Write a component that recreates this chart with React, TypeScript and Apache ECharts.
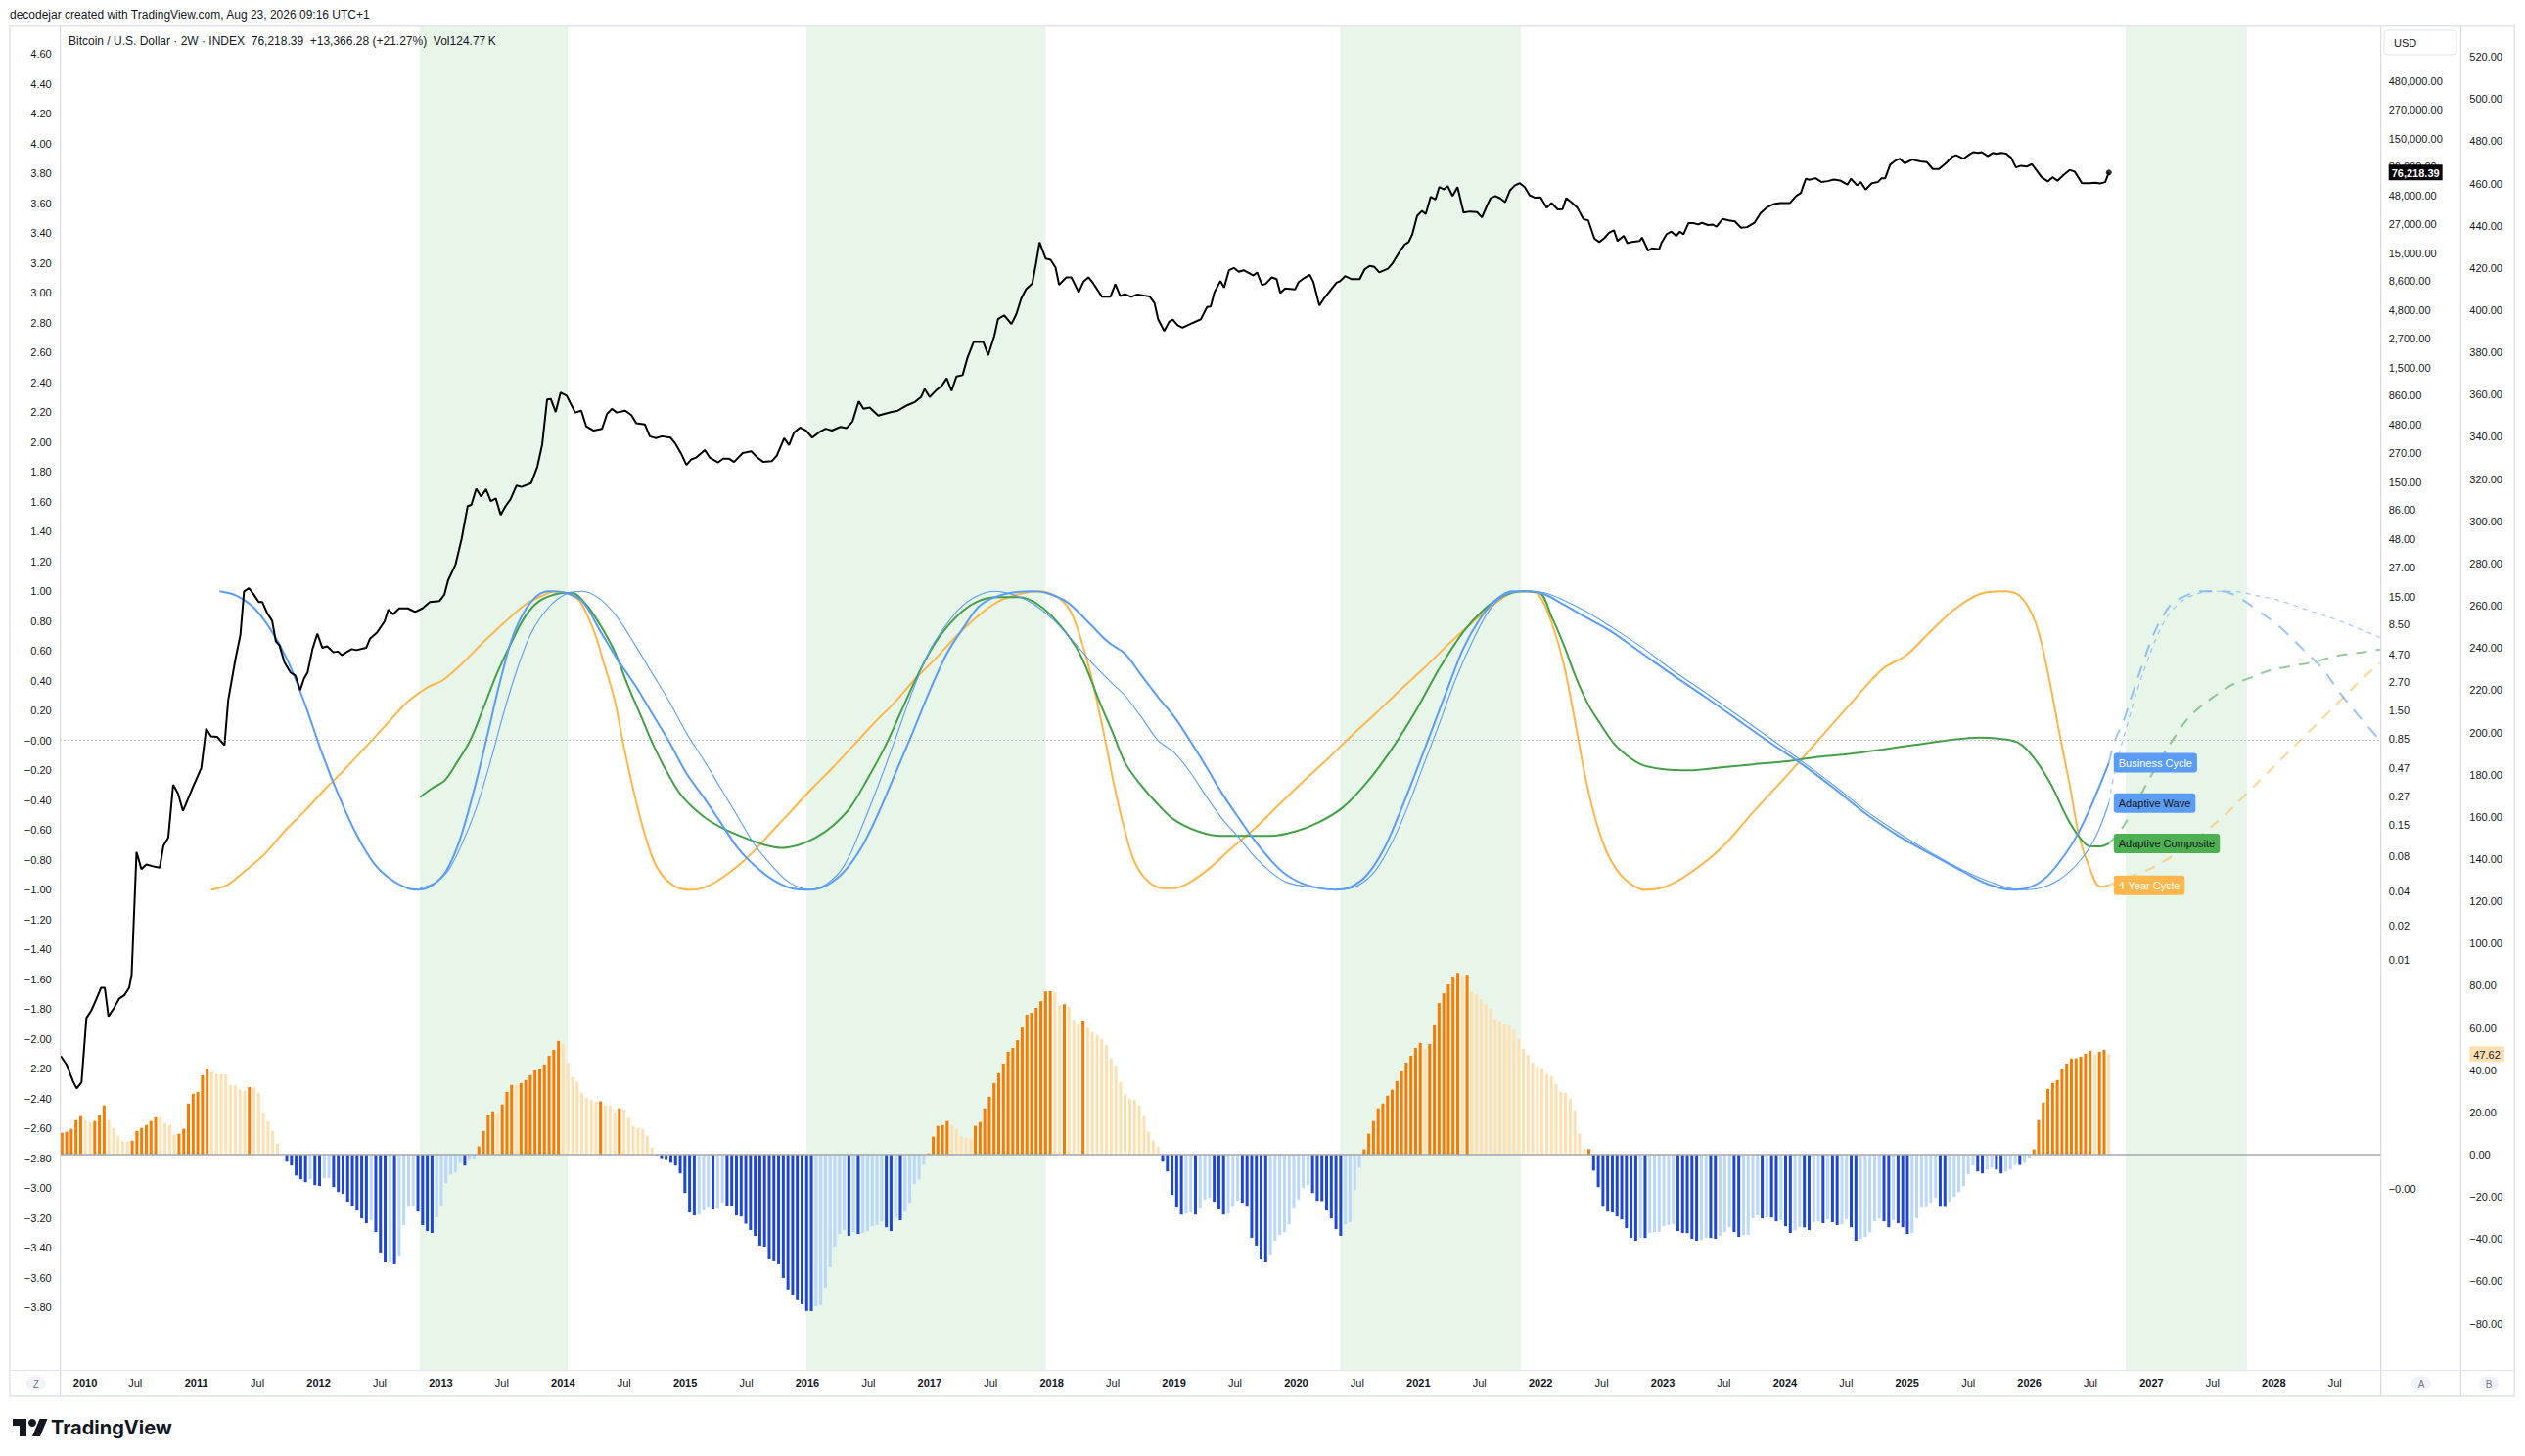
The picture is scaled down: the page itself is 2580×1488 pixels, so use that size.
import React, { useEffect, useRef } from "react";
import * as echarts from "echarts";

const FONT = "'Liberation Sans', Arial, sans-serif";
const TXT = "#131722";

// ---------------- tick labels ----------------
const X_LABEL_AT = [2010.09, 2010.5, 2011, 2011.5, 2012, 2012.5, 2013, 2013.5, 2014, 2014.5, 2015, 2015.5, 2016, 2016.5, 2017, 2017.5, 2018, 2018.5, 2019, 2019.5, 2020, 2020.5, 2021, 2021.5, 2022, 2022.5, 2023, 2023.5, 2024, 2024.5, 2025, 2025.5, 2026, 2026.5, 2027, 2027.5, 2028, 2028.5];
const X_LABEL_TEXT = ["2010", "Jul", "2011", "Jul", "2012", "Jul", "2013", "Jul", "2014", "Jul", "2015", "Jul", "2016", "Jul", "2017", "Jul", "2018", "Jul", "2019", "Jul", "2020", "Jul", "2021", "Jul", "2022", "Jul", "2023", "Jul", "2024", "Jul", "2025", "Jul", "2026", "Jul", "2027", "Jul", "2028", "Jul"];
const L_TICKS = [4.6, 4.4, 4.2, 4.0, 3.8, 3.6, 3.4, 3.2, 3.0, 2.8, 2.6, 2.4, 2.2, 2.0, 1.8, 1.6, 1.4, 1.2, 1.0, 0.8, 0.6, 0.4, 0.2, 0, -0.2, -0.4, -0.6, -0.8, -1.0, -1.2, -1.4, -1.6, -1.8, -2.0, -2.2, -2.4, -2.6, -2.8, -3.0, -3.2, -3.4, -3.6, -3.8];
const A_TICKS = [480000, 270000, 150000, 86000, 48000, 27000, 15000, 8600, 4800, 2700, 1500, 860, 480, 270, 150, 86, 48, 27, 15, 8.5, 4.7, 2.7, 1.5, 0.85, 0.47, 0.27, 0.15, 0.08, 0.04, 0.02, 0.01];
const A_EXTRA_LOG = -4; // the "−0.00" label on the price scale
const B_TICKS = [520, 500, 480, 460, 440, 420, 400, 380, 360, 340, 320, 300, 280, 260, 240, 220, 200, 180, 160, 140, 120, 100, 80, 60, 40, 20, 0, -20, -40, -60, -80];

// ---------------- highlighted periods ----------------
const BANDS = [[2012.83, 2014.04], [2015.99, 2017.95], [2020.36, 2021.84], [2026.79, 2027.78]];

// ---------------- BTC / USD (2W close) [year, price] ----------------
const BTC: number[][] = [
[2009.89,0.00144],[2009.94,0.0012],[2009.99,0.00087],[2010.02,0.00075],[2010.06,0.00085],[2010.10,0.0031],[2010.14,0.0036],[2010.18,0.0045],[2010.22,0.0057],[2010.25,0.0057],
[2010.28,0.0032],[2010.32,0.0037],[2010.37,0.0046],[2010.41,0.0049],[2010.45,0.0057],[2010.47,0.0074],[2010.51,0.0875],[2010.55,0.062],[2010.59,0.068],[2010.66,0.065],
[2010.70,0.064],[2010.73,0.099],[2010.77,0.117],[2010.81,0.339],[2010.85,0.284],[2010.89,0.20],[2010.97,0.32],[2011.04,0.475],[2011.08,1.05],[2011.12,0.90],
[2011.17,0.89],[2011.23,0.75],[2011.26,1.85],[2011.32,4.28],[2011.36,6.9],[2011.39,16.6],[2011.43,17.7],[2011.47,15.6],[2011.51,13.4],[2011.54,13.4],
[2011.58,10.7],[2011.62,9.2],[2011.65,6.1],[2011.68,5.6],[2011.72,4.0],[2011.77,3.25],[2011.81,3.05],[2011.85,2.28],[2011.88,2.86],[2011.91,3.25],
[2011.95,5.2],[2011.99,7.1],[2012.03,5.35],[2012.07,5.5],[2012.12,4.9],[2012.16,4.95],[2012.19,4.6],[2012.23,4.9],[2012.27,5.2],[2012.31,5.1],
[2012.39,5.35],[2012.42,6.4],[2012.48,7.3],[2012.54,9.1],[2012.57,11.5],[2012.61,10.5],[2012.66,11.8],[2012.73,11.8],[2012.79,11.0],[2012.85,11.8],
[2012.91,13.4],[2012.99,13.7],[2013.03,15.6],[2013.06,20.8],[2013.12,28.4],[2013.17,47.6],[2013.22,92.5],[2013.25,94.8],[2013.29,131],[2013.33,112],
[2013.37,130],[2013.41,102],[2013.45,108],[2013.49,77.6],[2013.53,92.5],[2013.57,106],[2013.62,140],[2013.66,136],[2013.74,147],[2013.79,204],
[2013.83,320],[2013.87,791],[2013.90,800],[2013.94,615],[2013.98,908],[2014.03,853],[2014.10,608],[2014.15,631],[2014.19,461],[2014.25,423],
[2014.32,439],[2014.36,592],[2014.40,655],[2014.44,608],[2014.51,631],[2014.56,578],[2014.60,491],[2014.67,479],[2014.71,377],[2014.76,363],
[2014.81,377],[2014.88,367],[2014.92,325],[2014.97,262],[2015.01,212],[2015.05,237],[2015.09,246],[2015.16,286],[2015.20,246],[2015.27,223],
[2015.31,240],[2015.36,240],[2015.40,225],[2015.47,269],[2015.54,279],[2015.59,246],[2015.64,225],[2015.71,229],[2015.75,256],[2015.81,363],
[2015.85,316],[2015.89,406],[2015.94,449],[2015.99,423],[2016.04,367],[2016.10,412],[2016.15,439],[2016.20,423],[2016.27,456],[2016.32,444],
[2016.37,510],[2016.42,762],[2016.46,655],[2016.51,672],[2016.58,571],[2016.63,592],[2016.69,615],[2016.74,631],[2016.82,707],[2016.88,752],
[2016.93,831],[2016.96,979],[2017.00,831],[2017.05,943],[2017.10,1043],[2017.14,1211],[2017.18,943],[2017.22,1257],[2017.27,1291],[2017.31,1832],
[2017.36,2512],[2017.44,2512],[2017.48,1928],[2017.53,2844],[2017.56,3990],[2017.61,4305],[2017.67,3610],[2017.71,4416],[2017.75,6040],[2017.79,7280],
[2017.84,8170],[2017.87,12050],[2017.90,18700],[2017.95,13490],[2017.99,13150],[2018.03,11300],[2018.06,7960],[2018.12,9250],[2018.16,9250],[2018.22,6850],
[2018.26,8480],[2018.30,9250],[2018.34,8170],[2018.41,6270],[2018.48,6270],[2018.52,8050],[2018.56,6340],[2018.60,6600],[2018.65,6250],[2018.70,6550],
[2018.75,6430],[2018.80,6300],[2018.84,5530],[2018.87,3980],[2018.92,3140],[2018.96,3780],[2018.99,3950],[2019.03,3530],[2019.07,3360],[2019.12,3560],
[2019.22,3980],[2019.27,5080],[2019.30,5150],[2019.33,6820],[2019.38,8580],[2019.41,7530],[2019.45,10660],[2019.49,11170],[2019.53,10330],[2019.57,10660],
[2019.61,10120],[2019.65,9600],[2019.68,10200],[2019.72,7930],[2019.75,8100],[2019.80,9230],[2019.84,8930],[2019.87,6730],[2019.91,7390],[2019.99,7240],
[2020.02,8410],[2020.07,9180],[2020.11,9730],[2020.14,8480],[2020.19,5240],[2020.23,6100],[2020.27,6900],[2020.33,8310],[2020.36,8580],[2020.40,9470],
[2020.45,8930],[2020.52,8930],[2020.56,10870],[2020.60,11620],[2020.64,11400],[2020.68,10200],[2020.75,11000],[2020.79,12330],[2020.84,15100],[2020.89,18030],
[2020.92,18800],[2020.95,21980],[2020.99,31960],[2021.03,35250],[2021.06,33000],[2021.10,46750],[2021.14,44400],[2021.17,56900],[2021.21,54300],[2021.24,58000],
[2021.28,47500],[2021.32,56900],[2021.37,34100],[2021.42,34800],[2021.48,34400],[2021.52,30900],[2021.56,38900],[2021.59,45300],[2021.63,47500],[2021.67,45300],
[2021.71,41900],[2021.75,53300],[2021.79,59000],[2021.83,61500],[2021.87,56900],[2021.91,48300],[2021.95,46000],[2022.00,46300],[2022.05,37650],[2022.09,41200],
[2022.14,36300],[2022.18,36500],[2022.21,45600],[2022.26,41200],[2022.30,37650],[2022.35,29900],[2022.39,29100],[2022.44,20200],[2022.48,18800],[2022.52,20300],
[2022.56,22700],[2022.60,23800],[2022.63,19200],[2022.68,21300],[2022.71,18400],[2022.75,18900],[2022.81,19200],[2022.83,20600],[2022.88,15800],[2022.91,16600],
[2022.97,16300],[2022.99,18600],[2023.03,22000],[2023.07,23200],[2023.11,21300],[2023.14,23200],[2023.17,22000],[2023.21,27500],[2023.25,27500],[2023.29,26800],
[2023.32,27700],[2023.37,26500],[2023.41,26700],[2023.44,25700],[2023.49,30000],[2023.54,29100],[2023.59,28500],[2023.64,25100],[2023.69,25400],[2023.75,27700],
[2023.80,33700],[2023.85,37650],[2023.91,40500],[2023.96,41300],[2024.04,41200],[2024.09,47500],[2024.13,50600],[2024.17,67200],[2024.20,65900],[2024.25,68000],
[2024.30,62900],[2024.35,64100],[2024.40,66300],[2024.45,65000],[2024.51,59700],[2024.54,67200],[2024.59,58900],[2024.62,62900],[2024.66,54100],[2024.71,61500],
[2024.76,62900],[2024.79,68000],[2024.82,68000],[2024.86,89100],[2024.90,96300],[2024.94,100700],[2024.98,91600],[2025.04,98900],[2025.11,95200],[2025.16,94100],
[2025.21,81800],[2025.26,81800],[2025.32,92400],[2025.37,105000],[2025.40,108000],[2025.46,100700],[2025.50,108000],[2025.54,114900],[2025.58,113000],[2025.61,114900],
[2025.66,106000],[2025.70,113000],[2025.73,110800],[2025.77,113000],[2025.81,111500],[2025.85,102800],[2025.89,84500],[2025.93,87400],[2025.98,86100],[2026.02,90300],
[2026.06,79100],[2026.10,69300],[2026.15,63700],[2026.19,69300],[2026.23,64600],[2026.28,72700],[2026.33,80200],[2026.37,77700],[2026.43,61500],[2026.49,61500],
[2026.54,62000],[2026.58,61200],[2026.62,62850],[2026.65,76218.39]
];

// ---------------- cycle oscillators [year, value] ----------------
const BUSINESS_CYCLE: number[][] = [
[2011.19,1.00],[2011.33,0.97],[2011.47,0.89],[2011.61,0.74],[2011.75,0.53],[2011.89,0.24],[2012.03,-0.09],[2012.17,-0.38],[2012.31,-0.63],[2012.45,-0.82],[2012.59,-0.93],[2012.73,-0.99],[2012.82,-1.00],[2012.93,-0.97],[2013.04,-0.88],[2013.15,-0.68],[2013.27,-0.34],[2013.38,0.03],[2013.49,0.41],[2013.60,0.72],[2013.74,0.93],[2013.88,1.00],[2014.02,0.99],[2014.16,0.93],[2014.30,0.74],[2014.44,0.55],[2014.59,0.37],[2014.73,0.18],[2014.87,-0.01],[2015.01,-0.22],[2015.15,-0.38],[2015.29,-0.55],[2015.43,-0.72],[2015.57,-0.84],[2015.71,-0.93],[2015.87,-0.99],[2016.02,-1.00],[2016.16,-0.97],[2016.30,-0.88],[2016.44,-0.72],[2016.58,-0.49],[2016.72,-0.22],[2016.86,0.05],[2017.00,0.33],[2017.14,0.58],[2017.28,0.76],[2017.42,0.91],[2017.61,0.98],[2017.84,1.00],[2017.95,0.99],[2018.12,0.93],[2018.29,0.80],[2018.46,0.66],[2018.60,0.58],[2018.73,0.44],[2018.87,0.29],[2019.01,0.15],[2019.13,0.00],[2019.26,-0.17],[2019.39,-0.35],[2019.53,-0.52],[2019.66,-0.67],[2019.79,-0.80],[2019.92,-0.90],[2020.09,-0.97],[2020.32,-1.00],[2020.45,-0.98],[2020.58,-0.90],[2020.71,-0.74],[2020.84,-0.50],[2020.98,-0.21],[2021.11,0.07],[2021.24,0.35],[2021.37,0.62],[2021.50,0.81],[2021.63,0.94],[2021.77,1.00],[2021.90,1.00],[2022.03,0.98],[2022.19,0.91],[2022.36,0.83],[2022.56,0.74],[2022.82,0.59],[2023.08,0.44],[2023.35,0.29],[2023.61,0.14],[2023.87,-0.01],[2024.14,-0.16],[2024.40,-0.32],[2024.66,-0.49],[2024.93,-0.64],[2025.19,-0.76],[2025.46,-0.88],[2025.65,-0.96],[2025.85,-1.00],[2025.98,-0.99],[2026.12,-0.93],[2026.25,-0.81],[2026.38,-0.65],[2026.51,-0.43],[2026.65,-0.15]
];
const ADAPTIVE_WAVE: number[][] = [
[2012.83,-0.99],[2012.96,-0.95],[2013.07,-0.86],[2013.18,-0.68],[2013.30,-0.43],[2013.41,-0.13],[2013.52,0.20],[2013.63,0.49],[2013.74,0.72],[2013.88,0.89],[2014.02,0.98],[2014.16,1.00],[2014.30,0.95],[2014.44,0.83],[2014.59,0.64],[2014.73,0.45],[2014.87,0.26],[2015.01,0.05],[2015.15,-0.13],[2015.29,-0.32],[2015.43,-0.51],[2015.57,-0.70],[2015.71,-0.84],[2015.85,-0.95],[2016.02,-1.00],[2016.16,-0.96],[2016.30,-0.84],[2016.44,-0.59],[2016.58,-0.30],[2016.72,0.01],[2016.86,0.33],[2017.00,0.60],[2017.14,0.78],[2017.28,0.91],[2017.42,0.98],[2017.53,1.00],[2017.67,0.98],[2017.84,0.92],[2018.01,0.81],[2018.17,0.67],[2018.34,0.51],[2018.51,0.37],[2018.60,0.30],[2018.73,0.16],[2018.87,0.00],[2019.00,-0.08],[2019.13,-0.21],[2019.26,-0.37],[2019.39,-0.52],[2019.53,-0.65],[2019.66,-0.78],[2019.79,-0.88],[2019.92,-0.95],[2020.09,-0.98],[2020.35,-1.00],[2020.51,-0.97],[2020.65,-0.87],[2020.78,-0.69],[2020.91,-0.45],[2021.04,-0.17],[2021.17,0.11],[2021.30,0.40],[2021.44,0.66],[2021.57,0.86],[2021.70,0.97],[2021.86,1.00],[2022.03,0.99],[2022.19,0.94],[2022.36,0.87],[2022.56,0.77],[2022.82,0.63],[2023.08,0.47],[2023.35,0.32],[2023.61,0.17],[2023.87,0.02],[2024.14,-0.14],[2024.40,-0.30],[2024.66,-0.47],[2024.93,-0.62],[2025.19,-0.75],[2025.46,-0.87],[2025.72,-0.96],[2025.92,-1.00],[2026.08,-0.99],[2026.25,-0.93],[2026.41,-0.81],[2026.54,-0.65],[2026.65,-0.42]
];
const ADAPTIVE_COMPOSITE: number[][] = [
[2012.83,-0.38],[2012.93,-0.32],[2013.03,-0.27],[2013.13,-0.15],[2013.24,0.00],[2013.35,0.22],[2013.46,0.45],[2013.58,0.66],[2013.69,0.83],[2013.80,0.93],[2013.94,0.98],[2014.07,0.99],[2014.19,0.91],[2014.30,0.78],[2014.42,0.60],[2014.53,0.37],[2014.64,0.16],[2014.75,-0.05],[2014.87,-0.24],[2014.98,-0.38],[2015.15,-0.51],[2015.31,-0.59],[2015.48,-0.65],[2015.65,-0.70],[2015.79,-0.72],[2015.93,-0.70],[2016.07,-0.65],[2016.21,-0.57],[2016.35,-0.45],[2016.49,-0.26],[2016.63,-0.05],[2016.77,0.20],[2016.91,0.45],[2017.05,0.66],[2017.22,0.83],[2017.39,0.93],[2017.56,0.96],[2017.73,0.96],[2017.89,0.91],[2018.06,0.78],[2018.23,0.58],[2018.40,0.24],[2018.50,0.05],[2018.60,-0.15],[2018.73,-0.30],[2018.87,-0.43],[2019.00,-0.53],[2019.20,-0.61],[2019.39,-0.64],[2019.59,-0.64],[2019.79,-0.64],[2019.99,-0.61],[2020.18,-0.55],[2020.38,-0.45],[2020.58,-0.28],[2020.78,-0.06],[2020.98,0.20],[2021.17,0.48],[2021.37,0.73],[2021.54,0.88],[2021.70,0.97],[2021.86,1.00],[2021.99,0.99],[2022.09,0.83],[2022.19,0.64],[2022.29,0.42],[2022.39,0.24],[2022.49,0.11],[2022.59,-0.01],[2022.69,-0.09],[2022.82,-0.16],[2022.98,-0.19],[2023.22,-0.20],[2023.48,-0.18],[2023.74,-0.16],[2024.01,-0.14],[2024.27,-0.11],[2024.53,-0.09],[2024.80,-0.06],[2025.06,-0.03],[2025.32,0.00],[2025.59,0.02],[2025.78,0.01],[2025.92,-0.02],[2026.05,-0.13],[2026.18,-0.30],[2026.31,-0.52],[2026.41,-0.65],[2026.50,-0.71],[2026.58,-0.71],[2026.65,-0.69]
];
const FOUR_YEAR_CYCLE: number[][] = [
[2011.12,-1.00],[2011.25,-0.97],[2011.39,-0.88],[2011.56,-0.76],[2011.72,-0.61],[2011.89,-0.47],[2012.06,-0.32],[2012.23,-0.18],[2012.40,-0.03],[2012.57,0.12],[2012.73,0.26],[2012.90,0.36],[2013.01,0.40],[2013.18,0.52],[2013.35,0.66],[2013.52,0.79],[2013.69,0.91],[2013.83,0.97],[2013.94,1.00],[2014.05,0.98],[2014.14,0.93],[2014.25,0.74],[2014.33,0.53],[2014.42,0.28],[2014.50,-0.05],[2014.59,-0.38],[2014.67,-0.63],[2014.75,-0.82],[2014.84,-0.93],[2014.95,-0.99],[2015.06,-1.00],[2015.20,-0.97],[2015.37,-0.88],[2015.54,-0.76],[2015.71,-0.61],[2015.87,-0.47],[2016.04,-0.32],[2016.21,-0.18],[2016.38,-0.03],[2016.55,0.12],[2016.72,0.26],[2016.88,0.41],[2017.05,0.55],[2017.22,0.70],[2017.39,0.83],[2017.56,0.93],[2017.73,0.98],[2017.89,1.00],[2018.03,0.97],[2018.15,0.87],[2018.26,0.62],[2018.34,0.37],[2018.43,0.03],[2018.51,-0.30],[2018.60,-0.61],[2018.67,-0.80],[2018.77,-0.93],[2018.90,-0.99],[2019.00,-0.99],[2019.13,-0.95],[2019.30,-0.85],[2019.46,-0.73],[2019.66,-0.59],[2019.86,-0.43],[2020.05,-0.28],[2020.25,-0.13],[2020.45,0.03],[2020.65,0.18],[2020.84,0.33],[2021.04,0.48],[2021.24,0.64],[2021.44,0.79],[2021.63,0.92],[2021.77,0.99],[2021.90,1.00],[2021.99,0.97],[2022.09,0.79],[2022.19,0.51],[2022.29,0.09],[2022.37,-0.26],[2022.46,-0.56],[2022.56,-0.78],[2022.69,-0.93],[2022.85,-1.00],[2023.02,-0.98],[2023.22,-0.89],[2023.48,-0.72],[2023.74,-0.48],[2024.01,-0.24],[2024.27,0.00],[2024.53,0.24],[2024.80,0.48],[2024.99,0.57],[2025.19,0.73],[2025.39,0.88],[2025.59,0.98],[2025.79,1.00],[2025.92,0.97],[2026.05,0.79],[2026.15,0.46],[2026.25,0.03],[2026.33,-0.30],[2026.41,-0.65],[2026.50,-0.87],[2026.58,-0.98],[2026.65,-0.97]
];

// ---------------- projections (dashed) ----------------
const BUSINESS_PROJ: number[][] = [[2026.65,-0.15],[2026.70,0.00],[2026.77,0.13],[2026.85,0.33],[2026.93,0.52],[2027.01,0.70],[2027.09,0.83],[2027.17,0.92],[2027.28,0.97],[2027.39,1.00],[2027.57,1.00],[2027.71,0.96],[2027.87,0.87],[2028.05,0.76],[2028.24,0.61],[2028.40,0.48],[2028.53,0.33],[2028.69,0.17],[2028.87,0.00]];
const WAVE_PROJ: number[][] = [[2026.65,-0.42],[2026.69,-0.24],[2026.74,-0.07],[2026.81,0.13],[2026.88,0.33],[2026.96,0.52],[2027.04,0.69],[2027.13,0.83],[2027.24,0.93],[2027.36,0.98],[2027.49,1.00],[2027.65,1.00],[2027.87,0.97],[2028.08,0.93],[2028.29,0.87],[2028.51,0.81],[2028.72,0.74],[2028.87,0.69]];
const COMPOSITE_PROJ: number[][] = [[2026.65,-0.69],[2026.74,-0.61],[2026.85,-0.46],[2026.96,-0.29],[2027.07,-0.13],[2027.17,0.00],[2027.28,0.13],[2027.39,0.22],[2027.52,0.30],[2027.65,0.37],[2027.81,0.42],[2027.97,0.47],[2028.16,0.50],[2028.35,0.53],[2028.53,0.57],[2028.72,0.59],[2028.87,0.61]];
const FOUR_YEAR_PROJ: number[][] = [[2026.65,-0.97],[2026.80,-0.92],[2026.96,-0.87],[2027.12,-0.80],[2027.28,-0.71],[2027.44,-0.61],[2027.60,-0.50],[2027.76,-0.37],[2027.92,-0.24],[2028.08,-0.11],[2028.24,0.02],[2028.40,0.15],[2028.56,0.28],[2028.72,0.41],[2028.87,0.52]];

// ---------------- momentum histogram (one value per 2W bar) ----------------
const HIST_END = 2026.65;
const HIST_STEP = 14 / 365.25;
const HIST: number[] = [
10.3,10.8,12.2,16.3,18.2,16.3,15.1,15.9,18.6,23.3,
16.3,12.6,8.9,6.6,6.2,6.6,11.2,12.6,14.0,15.9,
17.7,17.5,14.9,14.0,9.4,9.9,12.2,24.2,28.8,29.7,
37.6,40.8,39.3,38.2,38.1,38.0,33.0,32.9,30.7,30.2,
32.0,31.9,29.3,20.0,15.9,11.2,5.2,0.3,-3.4,-5.2,
-9.9,-11.7,-13.1,-11.7,-14.5,-14.9,-11.2,-11.1,-15.4,-17.7,
-18.6,-22.3,-24.2,-26.5,-30.2,-32.5,-31.1,-36.7,-46.8,-51.0,
-50.9,-51.9,-48.2,-33.4,-24.7,-24.2,-27.0,-33.4,-36.2,-37.1,
-29.7,-24.2,-13.6,-9.4,-8.5,-3.9,-5.2,-2.0,-1.9,3.9,
11.2,18.6,20.5,19.6,23.7,29.7,33.0,32.9,33.9,35.3,
37.6,39.9,40.8,42.7,46.8,49.6,53.8,52.4,43.6,36.7,
34.4,29.3,27.0,26.0,25.0,25.2,23.3,23.2,20.0,21.9,
21.4,17.3,13.6,12.6,12.2,8.9,3.4,-0.4,-1.7,-2.2,
-3.9,-5.2,-8.9,-18.2,-27.4,-28.8,-28.4,-26.5,-25.1,-26.0,
-25.6,-22.8,-24.2,-24.3,-28.8,-29.3,
-32.7,-35.7,-38.5,-43.1,-43.6,-49.6,-50.5,-51.9,-58.4,-63.9,
-66.3,-69.0,-70.9,-74.1,-74.2,-71.8,-71.3,-63.0,-53.3,-43.6,
-37.6,-35.7,-38.5,-36.7,-37.6,-37.1,-36.2,-33.9,-33.4,-31.6,
-34.4,-36.2,-29.7,-31.1,-27.0,-22.8,-14.0,-11.7,-4.8,0.6,
8.5,13.6,14.0,15.9,14.0,12.2,8.9,8.0,7.6,13.6,
15.4,21.9,27.4,33.9,38.5,43.1,48.7,50.5,54.2,60.2,
66.3,67.2,69.5,72.7,77.3,77.4,76.9,70.9,71.3,70.0,
63.9,61.6,63.5,60.2,57.9,56.5,54.7,51.9,45.5,42.2,
34.4,28.8,26.5,26.0,23.3,18.2,10.8,6.6,3.9,-3.4,
-8.0,-19.1,-25.1,-28.4,-27.9,-27.4,-28.4,-25.6,-21.4,-20.5,
-22.3,-26.0,-28.4,-27.9,-24.7,-21.9,-22.8,-24.7,-39.4,-43.1,
-49.6,-51.0,-47.8,-40.8,-38.1,-36.7,-33.0,-25.6,-21.4,-15.9,
-14.5,-18.2,-21.9,-22.0,-26.5,-30.2,-35.3,-38.5,-33.0,-32.0,
-16.8,-6.2,2.5,9.9,15.9,21.9,24.2,27.9,30.7,34.8,
39.4,43.6,46.8,50.5,52.9,
50.1,52.4,61.2,71.8,76.4,80.6,84.3,86.1,84.7,85.2,
77.3,76.0,73.7,71.3,69.0,64.4,63.5,61.6,61.2,59.3,
54.7,50.1,47.3,43.6,41.8,40.8,38.1,37.1,33.4,29.7,
29.3,26.5,21.0,9.9,2.5,2.6,-7.6,-15.4,-24.7,-27.0,
-27.4,-29.3,-30.7,-34.8,-39.4,-40.8,-39.4,-39.5,-37.1,-36.7,
-36.6,-33.9,-33.4,-33.0,-36.2,-37.1,-37.2,-39.9,-40.8,-40.4,
-39.4,-39.5,-39.9,-38.5,-36.7,-34.4,-36.7,-39.0,-38.1,-38.0,
-30.2,-28.8,-30.2,-29.7,-29.8,-31.6,-31.1,-33.9,-37.1,-35.7,
-34.4,-34.5,-35.7,-32.0,-31.6,-32.5,-30.7,-32.0,-33.4,-33.0,
-30.7,-34.4,-40.8,-39.9,-39.0,-36.7,-31.6,-30.2,-31.6,-34.4,
-31.1,-32.5,-34.4,-37.6,-37.1,-30.2,-25.1,-25.0,-22.8,-20.5,
-24.7,-24.8,-22.3,-20.0,-17.7,-14.9,-9.4,-5.2,-8.0,-8.9,
-7.1,-6.2,-7.1,-8.9,-8.0,-7.1,-4.8,-4.9,-3.9,-1.5,
2.5,16.3,24.7,31.1,33.9,35.3,40.8,43.1,45.5,45.6,
46.4,47.8,49.2,47.3,48.7,49.6,47.62
];

// ---------------- layout ----------------
const GL = 61.7, GR = 2432.7, GT = 26.7, GB = 1400;
const AXIS_B_X = 2514.3, FRAME_L = 10, FRAME_R = 2569.3, FRAME_B = 1427;
const X_MIN = 2009.887, X_MAX = 2028.876;
const L_MIN = -4.218, L_MAX = 4.787;
const A_MIN = -5.585, A_MAX = 6.162;
const B_MIN = -102, B_MAX = 534.6;

const C_BLUE = "#5b9cf6", C_GREEN = "#43a047", C_GREEN_BG = "#4caf50", C_ORANGE = "#ffb74d";
const OR_D = "#f57c00", OR_L = "#ffe0b2", BL_D = "#1e46d2", BL_L = "#bbd7fa";

echarts.graphic.registerShape(
  "tvlogo",
  echarts.graphic.extendPath("M14 22H7V11H0V4h14v18zM28 22h-8l7.5-18h8L28 22z", {})
);

const minus = "\u2212";
const fmtLeft = (v: number) => (v <= 0 ? minus : "") + Math.abs(v).toFixed(2);
const fmtB = (v: number) => (v < 0 ? minus : "") + Math.abs(v).toFixed(2);
const fmtPrice = (p: number) => p.toLocaleString("en-US", { minimumFractionDigits: 2, maximumFractionDigits: 2 });

const nearest = (arr: number[], v: number) => {
  let k = 0, best = Infinity;
  arr.forEach((t, i) => { const d = Math.abs(t - v); if (d < best) { best = d; k = i; } });
  return k;
};

function buildOption() {
  const last = (a: number[][]) => a[a.length - 1][1];
  const btcData = BTC.map(([t, p]) => [t, Math.log10(p)]);
  const btcLast = BTC[BTC.length - 1];
  const n = HIST.length;
  const histLast = HIST[n - 1];
  const histData = HIST.map((v, i) => {
    const prev = i > 0 ? HIST[i - 1] : -Infinity;
    const color = v >= 0 ? (v >= prev ? OR_D : OR_L) : (v <= prev ? BL_D : BL_L);
    return { value: [HIST_END - (n - 1 - i) * HIST_STEP, v], itemStyle: { color } };
  });

  // price scale ticks + the last-price tag (drawn last so it sits on top)
  const aLogs = A_TICKS.map((p) => Math.log10(p)).concat([A_EXTRA_LOG, Math.log10(btcLast[1])]);
  const aText = A_TICKS.map(fmtPrice).concat([minus + "0.00", "{tag|" + fmtPrice(btcLast[1]) + "}"]);
  const bVals = B_TICKS.concat([histLast]);
  const bText = B_TICKS.map(fmtB).concat(["{tag|" + histLast.toFixed(2) + "}"]);

  const axisLabelBase = { color: TXT, fontSize: 11, fontFamily: FONT };

  const leftBox = (val: number, bg: string, fg: string) => ({
    yAxis: val,
    lineStyle: { opacity: 0 },
    label: {
      show: true, position: "start", distance: 1, formatter: fmtLeft(val),
      backgroundColor: bg, color: fg, padding: [3, 5], fontSize: 11, lineHeight: 11,
      fontFamily: FONT, borderRadius: 2,
    },
  });

  const endLabel = (text: string, bg: string, fg: string) => ({
    show: true, formatter: text, backgroundColor: bg, color: fg, padding: [4, 5],
    borderRadius: 3, fontSize: 11, lineHeight: 12, fontFamily: FONT, distance: 5,
  });

  const cycle = (name: string, data: number[][], color: string, width: number, lbl: any, box: any, extraMarks: any[] = []) => ({
    name, type: "line", yAxisIndex: 0, data, symbol: "none", smooth: 0.35, z: 3,
    lineStyle: { color, width }, itemStyle: { color },
    endLabel: lbl,
    markLine: { silent: true, symbol: ["none", "none"], animation: false, data: [box, ...extraMarks] },
  });

  const proj = (name: string, data: number[][], color: string, width: number, dash: number[], opacity: number) => ({
    name, type: "line", yAxisIndex: 0, data, symbol: "none", smooth: 0.35, z: 3,
    lineStyle: { color, width, type: dash, opacity },
  });

  const txt = (x: number, y: number, text: string, extra: any = {}) => ({
    type: "text", silent: true, z: 100, x, y,
    style: { text, fontSize: 12, fontFamily: FONT, fill: TXT, verticalAlign: "middle", align: "left", ...extra },
  });

  return {
    animation: false,
    backgroundColor: "#ffffff",
    textStyle: { fontFamily: FONT },
    grid: { left: GL, top: GT, width: GR - GL, height: GB - GT },
    xAxis: {
      type: "value", min: X_MIN, max: X_MAX,
      axisLine: { show: false }, axisTick: { show: false }, splitLine: { show: false },
      axisLabel: {
        ...axisLabelBase, margin: 7, customValues: X_LABEL_AT,
        formatter: (v: number) => { const s = X_LABEL_TEXT[nearest(X_LABEL_AT, v)]; return s === "Jul" ? s : "{y|" + s + "}"; },
        rich: { y: { fontWeight: "bold", fontSize: 11, color: TXT, fontFamily: FONT } },
      },
    },
    yAxis: [
      {
        type: "value", position: "left", min: L_MIN, max: L_MAX,
        axisLine: { show: false }, axisTick: { show: false }, splitLine: { show: false },
        axisLabel: { ...axisLabelBase, margin: 9, customValues: L_TICKS, formatter: (v: number) => fmtLeft(v) },
      },
      {
        type: "value", position: "right", min: A_MIN, max: A_MAX,
        axisLine: { show: false }, axisTick: { show: false }, splitLine: { show: false },
        axisLabel: {
          ...axisLabelBase, margin: 5, customValues: aLogs,
          formatter: (v: number) => aText[nearest(aLogs, v)],
          padding: [0, 0, 0, 3],
          rich: { tag: { backgroundColor: "#000000", color: "#ffffff", fontWeight: "bold", fontSize: 11, lineHeight: 11, padding: [3, 3, 2, 3], fontFamily: FONT } },
        },
      },
      {
        type: "value", position: "right", offset: AXIS_B_X - GR, min: B_MIN, max: B_MAX,
        axisLine: { show: false }, axisTick: { show: false }, splitLine: { show: false },
        axisLabel: {
          ...axisLabelBase, margin: 5, customValues: bVals,
          formatter: (v: number) => bText[nearest(bVals, v)],
          padding: [0, 0, 0, 4],
          rich: { tag: { backgroundColor: OR_L, color: TXT, fontSize: 11, lineHeight: 11, padding: [3, 4, 2, 4], fontFamily: FONT } },
        },
      },
    ],
    series: [
      {
        name: "Momentum", type: "bar", yAxisIndex: 2, barWidth: 3, z: 2, data: histData,
        markArea: {
          silent: true, itemStyle: { color: "#e8f5e9" },
          data: BANDS.map(([a, b]) => [{ xAxis: a }, { xAxis: b }]),
        },
        markLine: {
          silent: true, symbol: ["none", "none"], animation: false,
          data: [
            { yAxis: 0, lineStyle: { color: "#a3a6ae", width: 1.5, type: "solid" }, label: { show: false } },
          ],
        },
      },
      cycle("4-Year Cycle", FOUR_YEAR_CYCLE, C_ORANGE, 2, endLabel("4-Year Cycle", C_ORANGE, "#ffffff"), leftBox(last(FOUR_YEAR_CYCLE), C_ORANGE, TXT)),
      cycle("Adaptive Composite", ADAPTIVE_COMPOSITE, C_GREEN, 2, endLabel("Adaptive Composite", C_GREEN_BG, TXT), leftBox(last(ADAPTIVE_COMPOSITE), C_GREEN_BG, "#ffffff")),
      cycle("Adaptive Wave", ADAPTIVE_WAVE, C_BLUE, 1.1, endLabel("Adaptive Wave", C_BLUE, TXT), leftBox(last(ADAPTIVE_WAVE), C_BLUE, TXT)),
      cycle("Business Cycle", BUSINESS_CYCLE, C_BLUE, 2, endLabel("Business Cycle", C_BLUE, "#ffffff"), leftBox(last(BUSINESS_CYCLE), C_BLUE, TXT), [
        { yAxis: 0, lineStyle: { color: "#9598a1", width: 1, type: [1, 3] }, label: { show: false } },
      ]),
      proj("4-Year Cycle (proj)", FOUR_YEAR_PROJ, C_ORANGE, 2, [11, 9], 0.6),
      proj("Adaptive Composite (proj)", COMPOSITE_PROJ, C_GREEN, 2, [11, 9], 0.55),
      proj("Adaptive Wave (proj)", WAVE_PROJ, C_BLUE, 1.2, [5, 5], 0.55),
      proj("Business Cycle (proj)", BUSINESS_PROJ, C_BLUE, 2, [13, 10], 0.6),
      {
        name: "BTCUSD", type: "line", yAxisIndex: 1, data: btcData, symbol: "none", z: 4,
        lineStyle: { color: "#000000", width: 2 },
      },
      {
        name: "BTC last", type: "scatter", yAxisIndex: 1, z: 5, symbolSize: 6,
        data: [[btcLast[0], Math.log10(btcLast[1])]], itemStyle: { color: "#000000" },
      },
    ],
    graphic: [
      { type: "rect", silent: true, z: 50, shape: { x: FRAME_L, y: GT, width: FRAME_R - FRAME_L, height: FRAME_B - GT }, style: { fill: "none", stroke: "#e0e3eb", lineWidth: 1.5 } },
      { type: "line", silent: true, z: 50, shape: { x1: GL, y1: GT, x2: GL, y2: FRAME_B }, style: { stroke: "#d1d4dc", lineWidth: 1 } },
      { type: "line", silent: true, z: 50, shape: { x1: GR, y1: GT, x2: GR, y2: FRAME_B }, style: { stroke: "#d1d4dc", lineWidth: 1 } },
      { type: "line", silent: true, z: 50, shape: { x1: AXIS_B_X, y1: GT, x2: AXIS_B_X, y2: FRAME_B }, style: { stroke: "#d1d4dc", lineWidth: 1 } },
      { type: "line", silent: true, z: 50, shape: { x1: FRAME_L, y1: GB + 0.5, x2: FRAME_R, y2: GB + 0.5 }, style: { stroke: "#e0e3eb", lineWidth: 1 } },
      txt(10, 15, "decodejar created with TradingView.com, Aug 23, 2026 09:16 UTC+1"),
      txt(70, 42, "Bitcoin / U.S. Dollar \u00b7 2W \u00b7 INDEX  76,218.39  +13,366.28 (+21.27%)  Vol124.77\u2009K"),
      { type: "rect", silent: true, z: 60, shape: { x: 2436, y: 31, width: 74, height: 25, r: 4 }, style: { fill: "#ffffff", stroke: "#e0e3eb", lineWidth: 1 } },
      txt(2446, 44, "USD", { fontSize: 11 }),
      { type: "ellipse", silent: true, z: 60, shape: { cx: 36.7, cy: 1414, rx: 10, ry: 8 }, style: { fill: "#f0f3fa" } },
      txt(36.7, 1414, "Z", { fontSize: 10, fill: "#787b86", align: "center" }),
      { type: "ellipse", silent: true, z: 60, shape: { cx: 2474, cy: 1414, rx: 10, ry: 8 }, style: { fill: "#f0f3fa" } },
      txt(2474, 1414, "A", { fontSize: 10, fill: "#787b86", align: "center" }),
      { type: "ellipse", silent: true, z: 60, shape: { cx: 2543, cy: 1414, rx: 10, ry: 8 }, style: { fill: "#f0f3fa" } },
      txt(2543, 1414, "B", { fontSize: 10, fill: "#787b86", align: "center" }),
      { type: "tvlogo", silent: true, z: 60, x: 13, y: 1446, scaleX: 1, scaleY: 1, style: { fill: TXT } },
      { type: "circle", silent: true, z: 60, shape: { cx: 33, cy: 1454, r: 4 }, style: { fill: TXT } },
      txt(52, 1459, "TradingView", { fontSize: 20, fontWeight: "bold", fontFamily: "Inter, 'Liberation Sans', sans-serif" }),
    ],
  };
}

export default function App() {
  const ref = useRef<HTMLDivElement>(null);
  useEffect(() => {
    document.body.style.margin = "0";
    document.body.style.overflow = "hidden";
    const chart = echarts.init(ref.current as HTMLDivElement, null, { renderer: "svg", width: 2580, height: 1488 });
    chart.setOption(buildOption() as any);
    return () => chart.dispose();
  }, []);
  return <div ref={ref} style={{ width: 2580, height: 1488 }} />;
}
